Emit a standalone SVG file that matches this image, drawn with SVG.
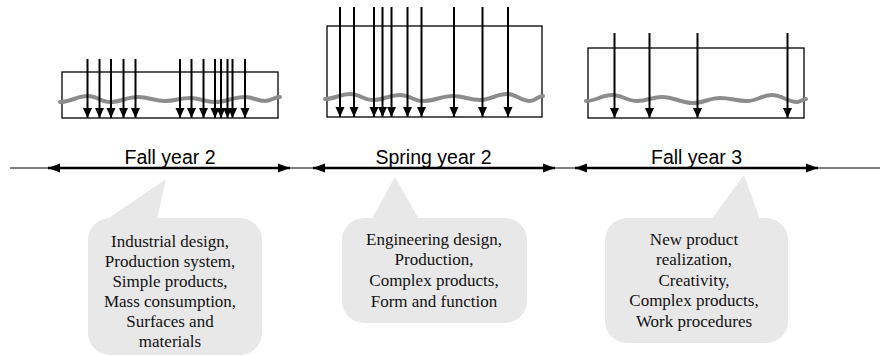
<svg xmlns="http://www.w3.org/2000/svg" width="880" height="356" viewBox="0 0 880 356">
<style>
.box{fill:none;stroke:#000;stroke-width:1.3}
.wave{fill:none;stroke:#8c8c8c;stroke-width:4;stroke-linecap:round}
.va{stroke:#000;stroke-width:2;marker-end:url(#ah)}
.tl{stroke:#000;stroke-width:2.5;marker-start:url(#th);marker-end:url(#th)}
.thin{stroke:#000;stroke-width:1}
.lbl{font-family:"Liberation Sans",Arial,sans-serif;font-size:19.5px;text-anchor:middle;fill:#000}
.bub{fill:#e8e8e8}
.bt{font-family:"Liberation Serif","Times New Roman",serif;font-size:17px;text-anchor:middle;fill:#111}
</style>
<defs>
<marker id="ah" markerUnits="userSpaceOnUse" markerWidth="10" markerHeight="10" viewBox="0 0 10 10" refX="10" refY="5" orient="auto">
<path d="M0,0.5 L10,5 L0,9.5 Z" fill="#000"/>
</marker>
<marker id="th" markerUnits="userSpaceOnUse" markerWidth="12" markerHeight="10" viewBox="0 0 12 10" refX="12" refY="5" orient="auto-start-reverse">
<path d="M0,0.5 L12,5 L0,9.5 Z" fill="#000"/>
</marker>
</defs>

<g id="box1">
<rect class="box" x="62" y="72" width="216" height="46"/>
<path class="wave" d="M60,102 C71.2,102 76.8,96 88,96 C96.8,96 101.2,102 110,102 C121.2,102 126.8,97 138,97 C148.8,97 154.2,101 165,101 C175,101 180,98 190,98 C200,98 205,102 215,102 C227,102 233,97 245,97 C253,97 257,101 265,101 C271,101 274,97 280,97"/>
</g>
<g id="box2">
<rect class="box" x="327" y="26" width="215" height="91"/>
<path class="wave" d="M325,99 C335,99 340,94 350,94 C359.2,94 363.8,100 373,100 C383.8,100 389.2,95 400,95 C409.2,95 413.8,101 423,101 C435,101 441,96 453,96 C463.8,96 469.2,100 480,100 C490.8,100 496.2,94 507,94 C516.2,94 520.8,101 530,101 C535.2,101 537.8,96 543,96"/>
</g>
<g id="box3">
<rect class="box" x="588" y="48" width="216" height="70"/>
<path class="wave" d="M586,101 C596.4,101 601.6,95 612,95 C622,95 627,101 637,101 C647,101 652,97 662,97 C674.4,97 680.6,103 693,103 C703.8,103 709.2,98 720,98 C730.8,98 736.2,101 747,101 C757,101 762,95 772,95 C782,95 787,102 797,102 C800.6,102 802.4,99 806,99"/>
</g>

<g id="connectors">
<line class="va" x1="87.5" y1="59" x2="87.5" y2="118"/>
<line class="va" x1="99.5" y1="59" x2="99.5" y2="118"/>
<line class="va" x1="111" y1="59" x2="111" y2="118"/>
<line class="va" x1="123.5" y1="59" x2="123.5" y2="118"/>
<line class="va" x1="135.5" y1="59" x2="135.5" y2="118"/>
<line class="va" x1="180" y1="59" x2="180" y2="118"/>
<line class="va" x1="191.5" y1="59" x2="191.5" y2="118"/>
<line class="va" x1="203.5" y1="59" x2="203.5" y2="118"/>
<line class="va" x1="215" y1="59" x2="215" y2="118"/>
<line class="va" x1="221" y1="59" x2="221" y2="118"/>
<line class="va" x1="227.5" y1="59" x2="227.5" y2="118"/>
<line class="va" x1="232.5" y1="59" x2="232.5" y2="118"/>
<line class="va" x1="245" y1="59" x2="245" y2="118"/>

<line class="va" x1="340" y1="7" x2="340" y2="117"/>
<line class="va" x1="354" y1="7" x2="354" y2="117"/>
<line class="va" x1="374" y1="7" x2="374" y2="117"/>
<line class="va" x1="382.5" y1="7" x2="382.5" y2="117"/>
<line class="va" x1="391.5" y1="7" x2="391.5" y2="117"/>
<line class="va" x1="407.5" y1="7" x2="407.5" y2="117"/>
<line class="va" x1="421.5" y1="7" x2="421.5" y2="117"/>
<line class="va" x1="454" y1="7" x2="454" y2="117"/>
<line class="va" x1="482.5" y1="7" x2="482.5" y2="117"/>
<line class="va" x1="508" y1="7" x2="508" y2="117"/>

<line class="va" x1="614.5" y1="33" x2="614.5" y2="118"/>
<line class="va" x1="649.5" y1="33" x2="649.5" y2="118"/>
<line class="va" x1="697.5" y1="33" x2="697.5" y2="118"/>
<line class="va" x1="787.5" y1="33" x2="787.5" y2="118"/>

<line class="thin" x1="10" y1="168" x2="880" y2="168"/>
<line class="tl" x1="48" y1="168" x2="290" y2="168"/>
<line class="tl" x1="313" y1="168" x2="555" y2="168"/>
<line class="tl" x1="575" y1="168" x2="818" y2="168"/>
</g>

<g id="label-fall2"><text class="lbl" x="170" y="164">Fall year 2</text></g>
<g id="label-spring2"><text class="lbl" x="433.5" y="164">Spring year 2</text></g>
<g id="label-fall3"><text class="lbl" x="696.5" y="164">Fall year 3</text></g>

<g id="callout1">
<rect class="bub" x="88" y="218" width="174" height="137" rx="22"/>
<polygon class="bub" points="166,179 100,224 156,224"/>
<text class="bt" x="170" y="246.5">Industrial design,</text>
<text class="bt" x="170" y="266.5">Production system,</text>
<text class="bt" x="170" y="286.5">Simple products,</text>
<text class="bt" x="170" y="306.5">Mass consumption,</text>
<text class="bt" x="170" y="326.5">Surfaces and</text>
<text class="bt" x="170" y="346.5">materials</text>
</g>
<g id="callout2">
<rect class="bub" x="342" y="218" width="185" height="105" rx="22"/>
<polygon class="bub" points="395,177 368,226 423,226"/>
<text class="bt" x="434" y="244.5">Engineering design,</text>
<text class="bt" x="434" y="265.2">Production,</text>
<text class="bt" x="434" y="285.9">Complex products,</text>
<text class="bt" x="434" y="306.6">Form and function</text>
</g>
<g id="callout3">
<rect class="bub" x="605" y="218" width="183" height="125" rx="22"/>
<polygon class="bub" points="744,175 707,225 762,225"/>
<text class="bt" x="694" y="245">New product</text>
<text class="bt" x="694" y="265.4">realization,</text>
<text class="bt" x="694" y="285.8">Creativity,</text>
<text class="bt" x="694" y="306.2">Complex products,</text>
<text class="bt" x="694" y="326.6">Work procedures</text>
</g>
</svg>
